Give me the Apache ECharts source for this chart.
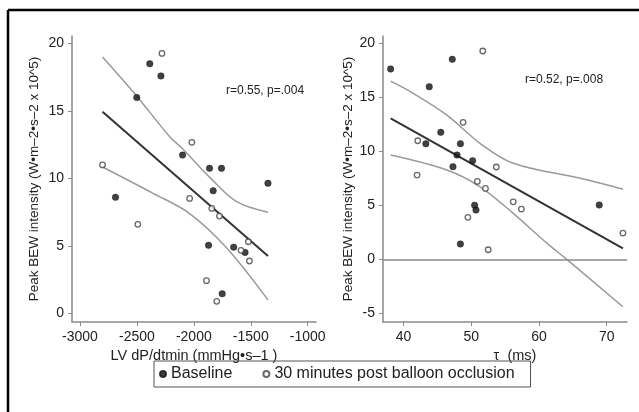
<!DOCTYPE html>
<html>
<head>
    <meta charset="UTF-8" />
    <title>Peak BEW intensity</title>
    <script src="https://cdn.jsdelivr.net/npm/echarts@6/dist/echarts.min.js"></script>
    <style>
        html, body { margin: 0; padding: 0; background: #fff; }
        #chart { width: 639px; height: 412px; }
    </style>
</head>
<body>
<div id="chart"></div>
<script type="text/javascript">
    // left panel: LV dP/dtmin vs peak BEW
    var dpdtBase = [-2387, -2289, -2501, -2099, -1862, -1757, -1349, -2688, -1830, -1871, -1650, -1550, -1751];
    var bewBaseL = [18.5, 17.6, 16.0, 11.73, 10.75, 10.75, 9.64, 8.6, 9.09, 5.04, 4.91, 4.52, 1.45];
    var dpdtPost = [-2280, -2017, -2802, -2037, -1842, -1775, -2492, -1521, -1586, -1512, -1889, -1799];
    var bewPostL = [19.27, 12.68, 11.0, 8.52, 7.78, 7.21, 6.6, 5.31, 4.67, 3.88, 2.42, 0.89];
    var dpdtFitX = [-2802, -1349];
    var dpdtFitY = [14.95, 4.25];
    var dpdtUpX = [-2802, -2501, -2212, -2099, -1862, -1628, -1349];
    var dpdtUpY = [19.0, 16.1, 13.1, 12.2, 10.1, 8.3, 7.5];
    var dpdtLoX = [-2802, -2358, -2037, -1717, -1349];
    var dpdtLoY = [10.85, 8.9, 7.4, 4.9, 1.0];
    var dpdtTicks = [-3000, -2500, -2000, -1500, -1000];
    var bewTicksL = [0, 5, 10, 15, 20];

    // right panel: tau vs peak BEW
    var tauBase = [38.1, 47.2, 43.8, 45.5, 43.3, 48.4, 47.9, 50.2, 47.3, 50.5, 50.7, 48.4, 68.9];
    var bewBaseR = [17.62, 18.52, 15.98, 11.76, 10.7, 10.7, 9.66, 9.13, 8.58, 5.0, 4.56, 1.42, 5.03];
    var tauPost = [51.7, 48.8, 42.1, 53.7, 42.0, 50.9, 52.1, 56.2, 57.4, 49.5, 52.5, 72.4];
    var bewPostR = [19.29, 12.69, 10.98, 8.55, 7.8, 7.22, 6.57, 5.33, 4.66, 3.89, 0.89, 2.43];
    var tauFitX = [38.1, 72.4];
    var tauFitY = [13.06, 1.02];
    var tauUpX = [38.1, 41.45, 46.4, 51.3, 56.2, 66.1, 72.4];
    var tauUpY = [16.5, 15.37, 13.36, 10.74, 8.9, 7.5, 6.5];
    var tauLoX = [38.1, 46.4, 51.3, 56.2, 61.2, 64.1, 72.4];
    var tauLoY = [9.66, 8.27, 6.72, 4.26, 1.48, 0, -4.39];
    var tauTicks = [40, 50, 60, 70];
    var bewTicksR = [-5, 0, 5, 10, 15, 20];

    var yName = 'Peak BEW intensity (W•m–2•s–2 x 10^5)';

    function pairs(xs, ys) {
        var out = [];
        for (var i = 0; i < xs.length; i++) {
            out.push([xs[i], ys[i]]);
        }
        return out;
    }

    var font = 'Liberation Sans, Arial, sans-serif';
    var axisColor = '#8a8a8a';

    function valueAxis(opt) {
        return Object.assign({
            type: 'value',
            scale: true,
            axisLine: { show: true, onZero: false, lineStyle: { color: axisColor, width: 1.5 } },
            axisTick: { show: true, length: 4, lineStyle: { color: axisColor, width: 1 }, customValues: opt.ticks },
            axisLabel: {
                customValues: opt.ticks, color: '#222', fontSize: 14, fontFamily: font,
                formatter: function (v) { return String(v); }
            },
            splitLine: { show: false },
            nameTextStyle: { color: '#222', fontSize: 13.5, fontFamily: font }
        }, opt.extra);
    }

    function scatterBase(name, xi, data) {
        return {
            name: 'Baseline', type: 'scatter', xAxisIndex: xi, yAxisIndex: xi,
            symbol: 'circle', symbolSize: 6.5, data: data,
            itemStyle: { color: '#111', borderColor: '#111', borderWidth: 0.5 },
            z: 5
        };
    }

    function scatterPost(xi, data) {
        return {
            name: '30 minutes post balloon occlusion', type: 'scatter', xAxisIndex: xi, yAxisIndex: xi,
            symbol: 'circle', symbolSize: 5.5, data: data,
            itemStyle: { color: '#fff', borderColor: '#444', borderWidth: 1.3 },
            z: 5
        };
    }

    function curve(xi, data, color, width, smooth) {
        return {
            type: 'line', xAxisIndex: xi, yAxisIndex: xi, data: data,
            showSymbol: false, symbol: 'none', smooth: smooth, silent: true,
            lineStyle: { color: color, width: width }, z: 3
        };
    }

    var chart = echarts.init(document.getElementById('chart'), null, { renderer: 'canvas' });

    var fitR = curve(1, pairs(tauFitX, tauFitY), '#333', 2, false);
    fitR.markLine = {
        silent: true, symbol: 'none', label: { show: false },
        lineStyle: { color: '#8a8a8a', width: 1.5, type: 'solid' },
        data: [{ yAxis: 0 }]
    };

    var option = {
        animation: false,
        backgroundColor: '#fff',
        textStyle: { fontFamily: font },
        grid: [
            { left: 72, right: 323, top: 36, bottom: 90 },
            { left: 383, right: 12, top: 36, bottom: 90 }
        ],
        xAxis: [
            valueAxis({ ticks: dpdtTicks, extra: {
                gridIndex: 0, min: -3070, max: -927,
                name: 'LV dP/dtmin (mmHg•s–1 )', nameLocation: 'middle', nameGap: 20,
                nameTextStyle: { color: '#222', fontSize: 14.5, fontFamily: font }
            } }),
            valueAxis({ ticks: tauTicks, extra: {
                gridIndex: 1, min: 36.97, max: 73.0,
                name: 'τ  (ms)', nameLocation: 'middle', nameGap: 20,
                nameTextStyle: { color: '#222', fontSize: 14.5, fontFamily: font, padding: [0, 0, 0, 20] }
            } })
        ],
        yAxis: [
            valueAxis({ ticks: bewTicksL, extra: {
                gridIndex: 0, min: -0.64, max: 20.56,
                name: yName, nameLocation: 'middle', nameGap: 31
            } }),
            valueAxis({ ticks: bewTicksR, extra: {
                gridIndex: 1, min: -5.8, max: 20.68,
                name: yName, nameLocation: 'middle', nameGap: 28
            } })
        ],
        legend: {
            left: 154, top: 361,
            data: ['Baseline', '30 minutes post balloon occlusion'],
            itemWidth: 6, itemHeight: 6, itemGap: 30,
            padding: [5, 16, 5, 5],
            borderColor: '#555', borderWidth: 1,
            textStyle: { color: '#222', fontSize: 16, fontFamily: font }
        },
        graphic: [
            { type: 'line', shape: { x1: 8, y1: 10, x2: 639, y2: 10 }, style: { stroke: '#000', lineWidth: 2.5 } },
            { type: 'line', shape: { x1: 8, y1: 10, x2: 8, y2: 412 }, style: { stroke: '#000', lineWidth: 2.5 } },
            { type: 'text', left: 226, top: 85, style: { text: 'r=0.55, p=.004', fill: '#222', fontSize: 12, fontFamily: font } },
            { type: 'text', left: 525, top: 74, style: { text: 'r=0.52, p=.008', fill: '#222', fontSize: 12, fontFamily: font } }
        ],
        series: [
            curve(0, pairs(dpdtUpX, dpdtUpY), '#9a9a9a', 1.5, 0.35),
            curve(0, pairs(dpdtLoX, dpdtLoY), '#9a9a9a', 1.5, 0.35),
            curve(0, pairs(dpdtFitX, dpdtFitY), '#333', 2, false),
            scatterBase('Baseline', 0, pairs(dpdtBase, bewBaseL)),
            scatterPost(0, pairs(dpdtPost, bewPostL)),
            curve(1, pairs(tauUpX, tauUpY), '#9a9a9a', 1.5, 0.35),
            curve(1, pairs(tauLoX, tauLoY), '#9a9a9a', 1.5, 0.35),
            fitR,
            scatterBase('Baseline', 1, pairs(tauBase, bewBaseR)),
            scatterPost(1, pairs(tauPost, bewPostR))
        ]
    };

    chart.setOption(option);
</script>
</body>
</html>
